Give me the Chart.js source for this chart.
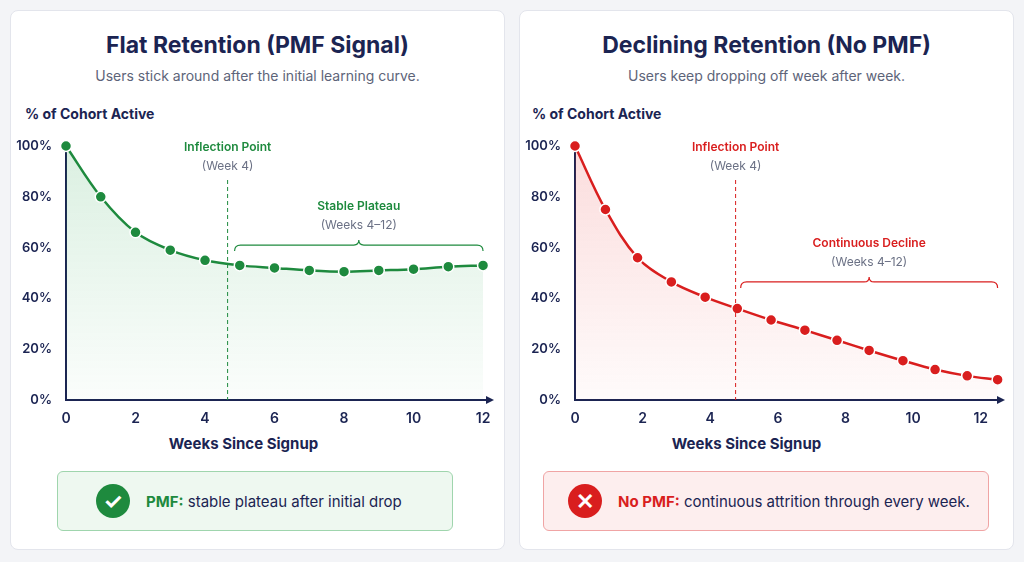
<!DOCTYPE html>
<html><head><meta charset="utf-8">
<script src="https://cdn.jsdelivr.net/npm/chart.js@4.4.0/dist/chart.umd.min.js"></script>
<style>
body{margin:0;width:1024px;height:562px;background:#f3f4f7;font-family:Inter,"Noto Sans",sans-serif;position:relative;overflow:hidden}
.card{position:absolute;top:10px;width:495px;height:540px;background:#fff;border:1px solid #e3e5ec;border-radius:8px;box-sizing:border-box}
.abs{position:absolute;white-space:nowrap}
.title{top:20px;width:100%;text-align:center;font-size:23px;font-weight:700;color:#1b2452}
.sub{top:56px;width:100%;text-align:center;font-size:14px;color:#5d6479}
.ylab{top:94px;font-size:14px;font-weight:700;color:#1b2452}
.xlab{top:423px;width:100%;text-align:center;font-size:15px;font-weight:700;color:#1b2452}
canvas{position:absolute}
.box{position:absolute;top:460px;height:60px;border-radius:6px;box-sizing:border-box;display:flex;align-items:center;font-size:15px;color:#1b2452}
.icon{width:34px;height:34px;border-radius:50%;color:#fff;font-size:22px;font-weight:700;display:flex;align-items:center;justify-content:center;margin:0 16px 0 38px}
</style></head><body>
<div class="card" style="left:10px">
  <div class="abs title">Flat Retention (PMF Signal)</div>
  <div class="abs sub">Users stick around after the initial learning curve.</div>
  <div class="abs ylab" style="left:14px">% of Cohort Active</div>
  <div class="abs xlab" style="left:-14px">Weeks Since Signup</div>
  <div class="box" style="left:46px;width:396px;background:#eef8f0;border:1px solid #9fd5ad">
    <div class="icon" style="background:#1e8a3e">&#10003;</div><span><b style="color:#1e8a3e">PMF:</b> stable plateau after initial drop</span></div>
</div>
<div class="card" style="left:519px">
  <div class="abs title">Declining Retention (No PMF)</div>
  <div class="abs sub">Users keep dropping off week after week.</div>
  <div class="abs ylab" style="left:12px">% of Cohort Active</div>
  <div class="abs xlab" style="left:-20px">Weeks Since Signup</div>
  <div class="box" style="left:23px;width:446px;background:#fdeeee;border:1px solid #f0a4a4">
    <div class="icon" style="background:#d91e1e;margin-left:24px">&#10005;</div><span><b style="color:#d91e1e">No PMF:</b> continuous attrition through every week.</span></div>
</div>
<canvas id="c1" style="left:10px;top:100px" width="495" height="360"></canvas>
<canvas id="c2" style="left:519px;top:100px" width="495" height="360"></canvas>
<script>
const flatWeeks = [0,1,2,3,4,5,6,7,8,9,10,11,12];
const flatValues = [100,80,66,59,55,53,52,51,50.5,51,51.5,52.5,53];
const declWeeks = [0,0.9,1.85,2.85,3.85,4.8,5.8,6.8,7.75,8.7,9.7,10.65,11.6,12.5];
const declValues = [100,75,56,46.5,40.5,36,31.5,27.5,23.5,19.5,15.5,12,9.5,8];
const yTicks = [0,20,40,60,80,100];
const navy = '#1b2452';

function makeChart(id, weeks, values, color, rgb, xMax, padL, padR, notes) {
  const ctx = document.getElementById(id).getContext('2d');
  const annot = {
    id: 'annot',
    afterDatasetsDraw(chart) {
      const c = chart.ctx, x = chart.scales.x, y = chart.scales.y;
      c.save();
      // axis arrow
      const ay = y.getPixelForValue(0);
      c.fillStyle = navy;
      c.beginPath(); c.moveTo(chart.chartArea.right + 4, ay); c.lineTo(chart.chartArea.right - 4, ay - 4); c.lineTo(chart.chartArea.right - 4, ay + 4); c.fill();
      // inflection line
      const ix = x.getPixelForValue(notes.inflect);
      c.strokeStyle = color; c.lineWidth = 1; c.setLineDash([4, 3]);
      c.beginPath(); c.moveTo(ix, 80); c.lineTo(ix, ay); c.stroke();
      c.setLineDash([]);
      c.textAlign = 'center';
      c.font = '600 12px Inter'; c.fillStyle = color;
      c.fillText('Inflection Point', ix, 51);
      c.font = '12px Inter'; c.fillStyle = '#6b7185';
      c.fillText('(Week 4)', ix, 70);
      // brace
      const bx1 = x.getPixelForValue(notes.b1), bx2 = x.getPixelForValue(notes.b2), by = y.getPixelForValue(notes.by);
      const mx = (bx1 + bx2) / 2;
      c.strokeStyle = color; c.lineWidth = 1.2;
      c.beginPath();
      c.moveTo(bx1, by + 6); c.quadraticCurveTo(bx1, by, bx1 + 6, by);
      c.lineTo(mx - 5, by); c.quadraticCurveTo(mx, by, mx, by - 5);
      c.quadraticCurveTo(mx, by, mx + 5, by);
      c.lineTo(bx2 - 6, by); c.quadraticCurveTo(bx2, by, bx2, by + 6);
      c.stroke();
      c.font = '600 12px Inter'; c.fillStyle = color;
      c.fillText(notes.label, mx, by - 35);
      c.font = '12px Inter'; c.fillStyle = '#6b7185';
      c.fillText('(Weeks 4\u201312)', mx, by - 16);
      c.restore();
    }
  };
  return new Chart(ctx, {
    type: 'line',
    data: { datasets: [{
      data: weeks.map((w, i) => ({x: w, y: values[i]})),
      borderColor: color, borderWidth: 2.5, tension: 0.35,
      pointRadius: 5.5, pointBackgroundColor: color, pointBorderColor: '#fff', pointBorderWidth: 1.5,
      fill: true, clip: false,
      backgroundColor: (cx) => {
        const a = cx.chart.chartArea;
        if (!a) return 'transparent';
        const g = cx.chart.ctx.createLinearGradient(0, a.top, 0, a.bottom);
        g.addColorStop(0, 'rgba(' + rgb + ',0.16)');
        g.addColorStop(1, 'rgba(' + rgb + ',0.02)');
        return g;
      }
    }]},
    options: {
      responsive: false, animation: false,
      layout: { padding: { left: padL, right: padR, top: 46, bottom: 0 } },
      plugins: { legend: { display: false }, tooltip: { enabled: false } },
      scales: {
        x: { type: 'linear', min: 0, max: xMax,
          afterBuildTicks: s => { s.ticks = [0,2,4,6,8,10,12].map(v => ({value: v})); },
          afterFit: s => { s.height = 60; },
          grid: { display: false, drawTicks: true },
          border: { color: navy, width: 2 },
          ticks: { color: navy, font: { family: 'Inter', size: 14, weight: '600' }, padding: 2 } },
        y: { min: 0, max: 100,
          afterBuildTicks: s => { s.ticks = yTicks.map(v => ({value: v})); },
          afterFit: s => { s.width = 52 - padL + 4; },
          grid: { display: false },
          border: { color: navy, width: 2 },
          ticks: { color: navy, font: { family: 'Inter', size: 13, weight: '600' }, padding: 6, callback: v => v + '%' } }
      }
    },
    plugins: [annot]
  });
}
makeChart('c1', flatWeeks, flatValues, '#1e8a3e', '30,160,70', 12.2, 4, 15,
  { inflect: 4.65, b1: 4.85, b2: 12, by: 61, label: 'Stable Plateau' });
makeChart('c2', declWeeks, declValues, '#d91e1e', '230,40,40', 12.6, 0, 13,
  { inflect: 4.75, b1: 4.9, b2: 12.5, by: 46.5, label: 'Continuous Decline' });
</script>
</body></html>
